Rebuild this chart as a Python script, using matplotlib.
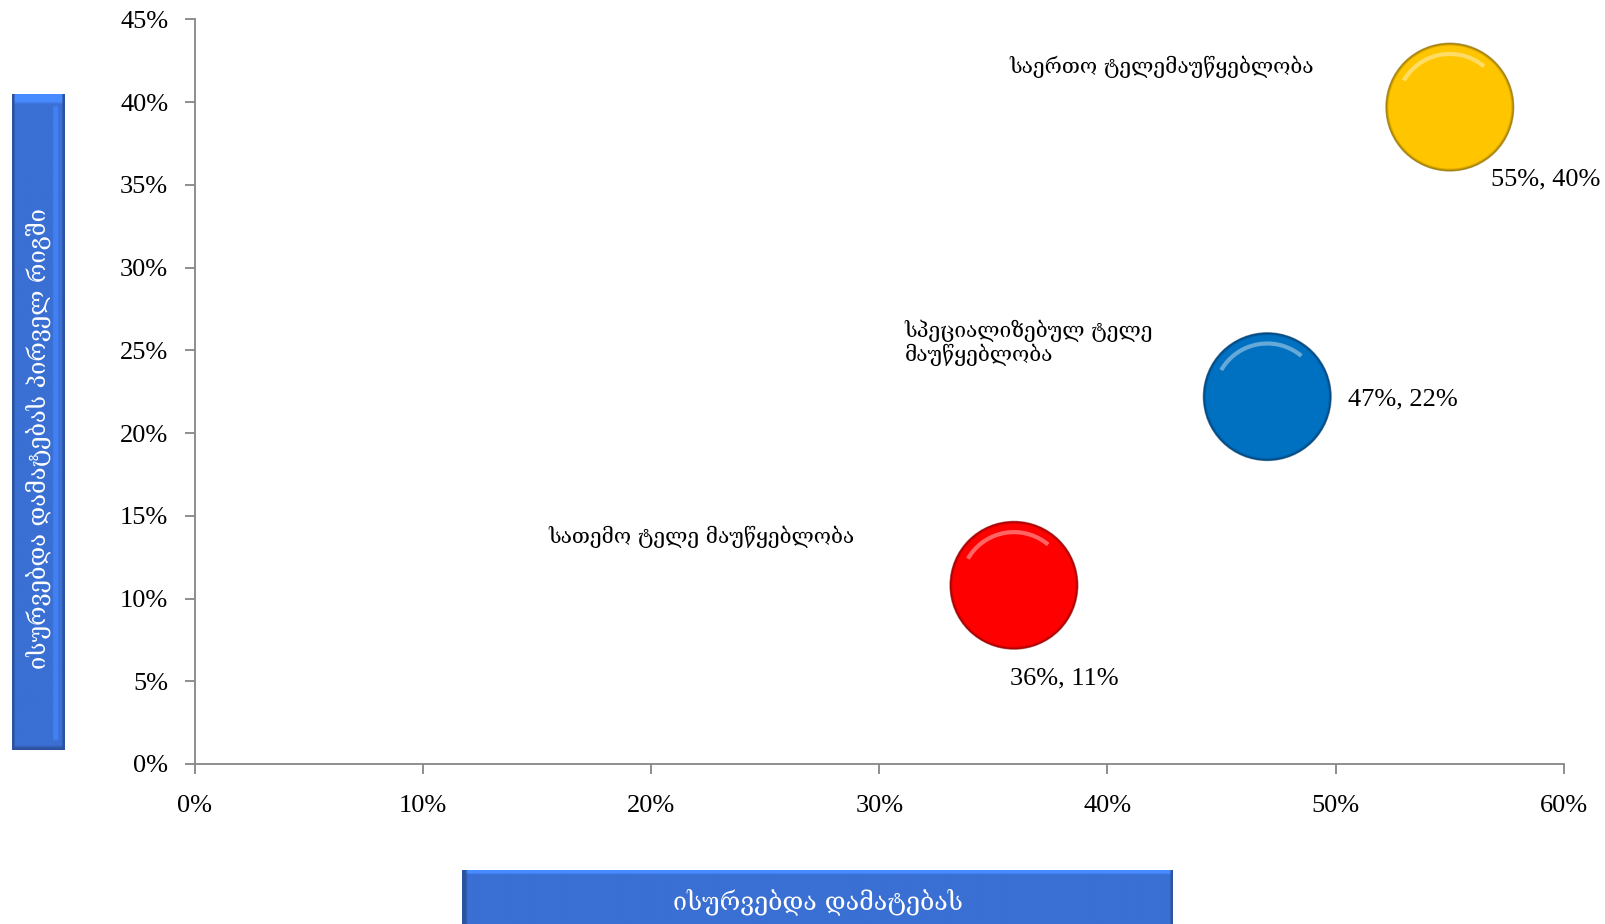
import numpy as np
import matplotlib
matplotlib.use("Agg")
import matplotlib.pyplot as plt
from matplotlib.path import Path
from matplotlib.colors import to_rgb
from matplotlib.ticker import MultipleLocator, FuncFormatter

# ---- data ----
names = ["სათემო ტელე მაუწყებლობა",
         "სპეციალიზებულ ტელე\nმაუწყებლობა",
         "საერთო ტელემაუწყებლობა"]
x_vals = [35.9, 47.0, 55.0]      # % wanted additions
y_vals = [10.8, 22.2, 39.7]      # % wanted additions first
sizes = [1.0, 1.0, 1.0]
colors = ["#FF0000", "#0070C0", "#FFC600"]
edge_colors = ["#8A0000", "#003A6A", "#8A6A00"]
x_title = "ისურვებდა დამატებას"
y_title = "ისურვებდა დამატებას პირველ რიგში"

# label offsets (points) relative to bubble centers
val_offsets = [(-3, -67, "left"), (58, -2, "left"), (30, -52, "left")]
name_offsets = [(-115, 35, "right"), (-261, 39, "left"), (-98, 29, "right")]

NUM_FONT = ["Liberation Serif", "DejaVu Serif"]
GEO_FONT = ["DejaVu Serif"]

fig = plt.figure(figsize=(16.06, 9.24), dpi=100)
ax = fig.add_axes([0.1212, 0.1732, 0.9738 - 0.1212, 0.979 - 0.1732])

ax.set_xlim(0, 60)
ax.set_ylim(0, 45)
ax.xaxis.set_major_locator(MultipleLocator(10))
ax.yaxis.set_major_locator(MultipleLocator(5))
pct = FuncFormatter(lambda v, p: f"{v:.0f}%")
ax.xaxis.set_major_formatter(pct)
ax.yaxis.set_major_formatter(pct)
for s in ["top", "right"]:
    ax.spines[s].set_visible(False)
for s in ["left", "bottom"]:
    ax.spines[s].set_color("#868686")
    ax.spines[s].set_linewidth(1.3)
ax.tick_params(axis="both", direction="out", color="#868686", width=1.3, length=7,
               labelsize=19)
ax.tick_params(axis="y", pad=12)
ax.tick_params(axis="x", pad=15)
for lab in ax.get_xticklabels() + ax.get_yticklabels():
    lab.set_family(NUM_FONT)

base_s = 8300
s_arr = np.array(sizes) * base_s

# soft rim: layers blending from edge colour to body colour
n_layers = 6
for k in range(n_layers):
    t = k / (n_layers - 1)
    cols = [tuple((1 - t) * np.array(to_rgb(e)) + t * np.array(to_rgb(c)))
            for e, c in zip(edge_colors, colors)]
    scale = 1.04 - 0.10 * t
    ax.scatter(x_vals, y_vals, s=s_arr * scale, c=cols, linewidths=0,
               alpha=0.6 if k == 0 else 1.0, zorder=3 + k * 0.01)

# highlight arc marker
theta = np.linspace(np.radians(50), np.radians(150), 40)
verts = [(np.cos(t) * 0.84, np.sin(t) * 0.84) for t in theta]
codes = [Path.MOVETO] + [Path.LINETO] * (len(verts) - 1)
verts += [(-1, -1), (1, 1)]
codes += [Path.MOVETO, Path.MOVETO]
arc = Path(verts, codes)
ax.scatter(x_vals, y_vals, s=s_arr * 1.0, marker=arc, facecolors="none",
           edgecolors="white", linewidths=3, alpha=0.4, zorder=5)

# labels
for i in range(len(x_vals)):
    dx, dy, ha = val_offsets[i]
    ax.annotate(f"{x_vals[i]:.0f}%, {y_vals[i]:.0f}%", (x_vals[i], y_vals[i]),
                xytext=(dx, dy), textcoords="offset points", ha=ha, va="center",
                fontsize=19, family=NUM_FONT, zorder=6)
    dx, dy, ha = name_offsets[i]
    ax.annotate(names[i], (x_vals[i], y_vals[i]), xytext=(dx, dy),
                textcoords="offset points", ha=ha, va="center", multialignment="left",
                fontsize=15, family=GEO_FONT, linespacing=1.1, zorder=6)


def bevel_box(rect, vertical, text, fs, tpos):
    bax = fig.add_axes(rect)
    bax.set_axis_off()
    h, w = (200, 40) if vertical else (40, 300)
    base = np.array([0x3A, 0x6F, 0xD3]) / 255.0
    light = np.clip(base * 1.25, 0, 1)
    dark = base * 0.75
    img = np.ones((h, w, 3)) * base
    yy, xx = np.mgrid[0:h, 0:w]
    if vertical:
        img[yy < 3] = light
        img[yy > h - 2] = dark
        img[xx < 2] = dark
        img[xx > w - 3] = dark
        hl = (xx >= w - 9) & (xx <= w - 6) & (yy > 3) & (yy < h - 3)
        img[hl] = np.clip(base * 1.15, 0, 1)
    else:
        img[yy < 3] = light
        img[xx < 2] = dark
        img[xx > w - 2] = dark
    bax.imshow(img, aspect="auto", extent=(0, 1, 0, 1), interpolation="bilinear")
    bax.set_xlim(0, 1)
    bax.set_ylim(0, 1)
    bax.text(tpos[0], tpos[1], text, rotation=90 if vertical else 0, ha="center",
             va="center", color="white", fontsize=fs, family=GEO_FONT,
             transform=bax.transAxes)


bevel_box([0.0077, 0.1883, 0.0325, 0.71], True, y_title, 17, (0.5, 0.475))
bevel_box([0.2877, -0.01, 0.4427, 0.0684], False, x_title, 18, (0.5, 0.5))

fig.savefig("out.png", dpi=100)
